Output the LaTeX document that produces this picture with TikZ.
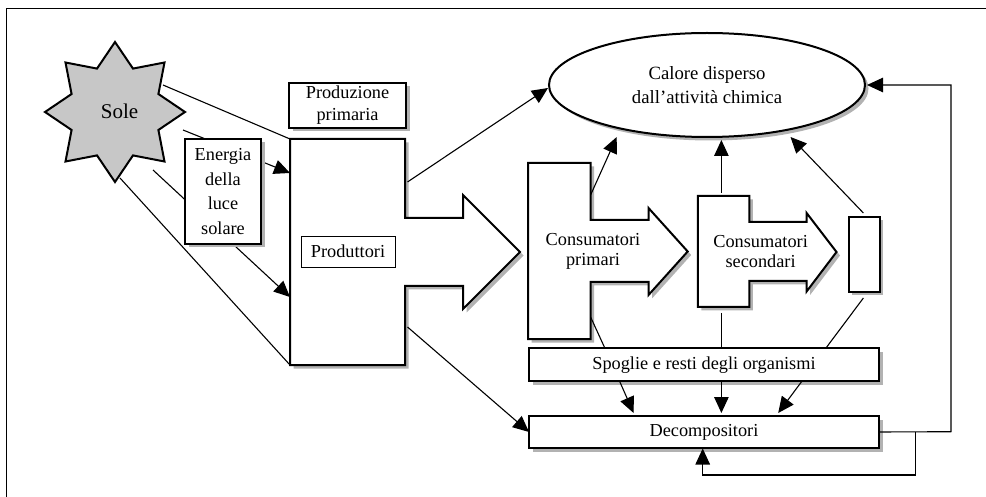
\documentclass[tikz,border=0pt]{standalone}
\usepackage{fontspec}
\setmainfont{Liberation Serif}
\usetikzlibrary{arrows.meta,shapes.geometric,shadows}
\begin{document}
\begin{tikzpicture}[x=1pt,y=-1pt,
  font=\fontsize{18.3}{21}\selectfont,
  thickline/.style={line width=2pt, line join=miter},
  conn/.style={line width=1.1pt},
  arr/.style={conn,-{Triangle[length=16pt,width=14.5pt]}},
  shad/.style={drop shadow={shadow xshift=3.5pt,shadow yshift=-3.5pt,fill=black!30,opacity=1}},
  box/.style={draw,thickline,fill=white,shad,inner sep=0pt,outer sep=0pt,align=center},
  plain/.style={inner sep=0pt,outer sep=0pt,align=center}]
\useasboundingbox (0,0) rectangle (986,497);
% frame
\draw[line width=1.4pt] (6.7,497) -- (6.7,8.3) -- (986,8.3);

% sun
\node[star, star points=8, star point ratio=1.49, minimum size=140pt, draw, thickline,
      fill=black!22, inner sep=0pt, outer sep=0pt] (sun) at (115,112) {};
\node[plain, font=\fontsize{21}{24}\selectfont] (sunlbl) at (119.5,111.7) {Sole};

% sun rays (start points)
\coordinate (s1) at (163,85);
\coordinate (s2) at (183,130);
\coordinate (s3) at (153,170);
\coordinate (s4) at (120,178);
% producer border points
\coordinate (pTL) at (290,139);
\coordinate (pBL) at (290,365);
\coordinate (pA1) at (290,173);
\coordinate (pA2) at (290,297);
\draw[conn] (s1) -- (pTL);
\draw[arr] (s2) -- (pA1);
\draw[arr] (s3) -- (pA2);
\draw[conn] (s4) -- (pBL);

% energy box
\node[box, minimum width=76pt, minimum height=105pt,
      font=\fontsize{18.3}{24.5}\selectfont] (en) at (223,191.5) {Energia\\della\\luce\\solare};

% produzione primaria
\node[box, minimum width=117pt, minimum height=45pt,
      font=\fontsize{18.3}{22}\selectfont] (pp) at (347.5,105.5) {Produzione\\primaria};

% producers arrow shape
\draw[thickline, fill=white, shad]
  (290,139) -- (405,139) -- (405,218) -- (463,218) -- (463,195) -- (520,252)
  -- (463,309) -- (463,286) -- (405,286) -- (405,365) -- (290,365) -- cycle;
\node[draw, line width=0.9pt, fill=white, minimum width=94pt, minimum height=31pt,
      inner sep=0pt] (prodlbl) at (348,251.5) {Produttori};

% ellipse
\node[draw, thickline, ellipse, fill=white, shad, minimum width=316pt, minimum height=104pt,
      inner sep=0pt, outer sep=0pt, align=center, font=\fontsize{18.7}{24}\selectfont]
      (cal) at (707,85) {Calore disperso\\dall’attività chimica};

% primary consumers
\draw[thickline, fill=white, shad]
  (528,163) -- (590.6,163) -- (590.6,220) -- (648.5,220) -- (648.5,208) -- (687.7,251.5)
  -- (648.5,295) -- (648.5,282) -- (590.6,282) -- (590.6,339) -- (528,339) -- cycle;
\node[plain, font=\fontsize{18.3}{20}\selectfont] (c1) at (593,251.7) {Consumatori\\primari};

% secondary consumers
\draw[thickline, fill=white, shad]
  (697.8,196) -- (749.4,196) -- (749.4,222) -- (806.6,222) -- (806.6,213) -- (836.5,252)
  -- (806.6,291.5) -- (806.6,281) -- (749.4,281) -- (749.4,307) -- (697.8,307) -- cycle;
\node[plain, font=\fontsize{18.3}{20}\selectfont] (c2) at (760.6,251.7) {Consumatori\\secondari};

% tertiary consumers
\node[box, minimum width=31pt, minimum height=75pt] (ter) at (864,254.5) {};

% spoglie and decompositori
\node[box, minimum width=350pt, minimum height=33pt] (sp) at (704,364.7) {Spoglie e resti degli organismi};
\node[box, minimum width=350pt, minimum height=32pt] (dec) at (704,432) {Decompositori};

% producers outflows
\coordinate (pout1) at (407.5,182);
\coordinate (pout2) at (407.5,327);
\draw[arr] (pout1) -- (548,88);
\draw[arr] (pout2) -- (dec.west);

% consumers to heat
\coordinate (c1top) at (590.6,195);
\coordinate (c2top) at (721.4,193);
\coordinate (c3top) at (863.4,213);
\draw[arr] (c1top) -- (616.7,137);
\draw[arr] (c2top) -- (721.4,140);
\draw[arr] (c3top) -- (790.5,137);

% consumers to spoglie
\coordinate (c1bot) at (590.6,317);
\coordinate (c2bot) at (721.4,313);
\coordinate (c3bot) at (863.4,298);
\draw[conn] (c1bot) -- (604.8,348);
\draw[conn] (c2bot) -- (721.4,348);
\draw[conn] (c3bot) -- (826,348);

% spoglie to decompositori
\draw[arr] (619.7,381.5) -- (633.6,413);
\draw[arr] (721.4,381.5) -- (721.4,413);
\draw[arr] (801.7,381.5) -- (778.2,413);

% loops
\coordinate (l1a) at (951,431.7);
\coordinate (l1b) at (951,85);
\draw[arr] (dec.east) -- (l1a) -- (l1b) -- (867,85);
\coordinate (l2a) at (915.7,431.7);
\coordinate (l2b) at (915.7,475);
\coordinate (l2c) at (702.7,475);
\draw[arr] (l2a) -- (l2b) -- (l2c) -- (702.7,448.5);
\end{tikzpicture}
\end{document}
